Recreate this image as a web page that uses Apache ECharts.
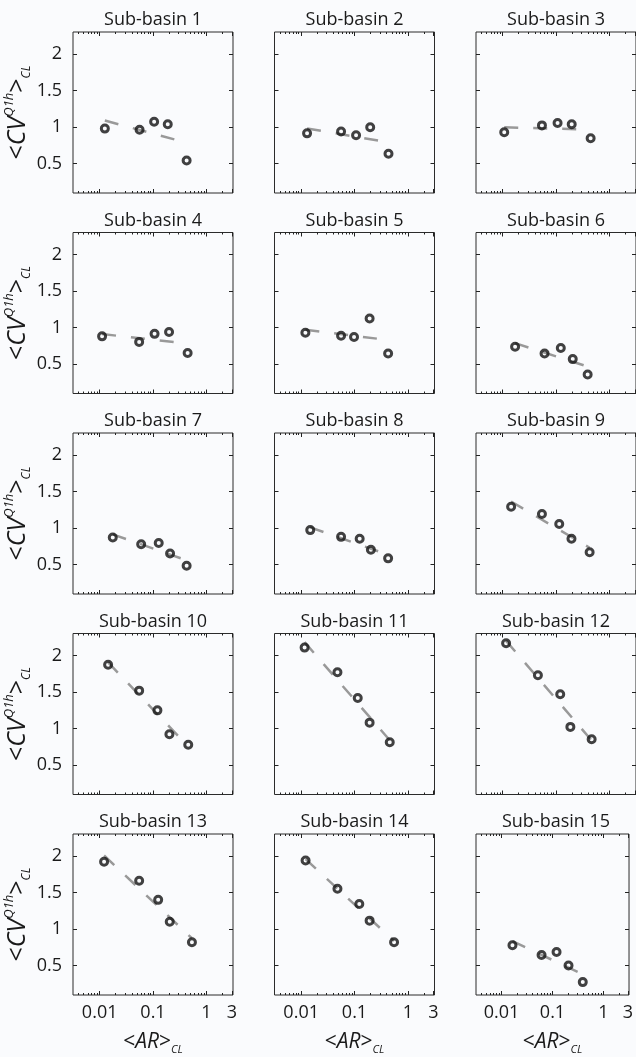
<!DOCTYPE html>
<html>
<head>
<meta charset="utf-8">
<script src="https://cdn.jsdelivr.net/npm/echarts@6/dist/echarts.min.js"></script>
<style>
  html, body { margin: 0; padding: 0; background: #fafbfd; }
  #chart { width: 636px; height: 1057px; }
</style>
</head>
<body>
<div id="chart"></div>
<script>
// <AR>_CL of the five points in each sub-basin
var arCL = [
  [0.0125, 0.056, 0.105, 0.189, 0.427],
  [0.0129, 0.056, 0.107, 0.197, 0.434],
  [0.0107, 0.0545, 0.107, 0.197, 0.446],
  [0.0111, 0.055, 0.107, 0.2, 0.446],
  [0.012, 0.056, 0.098, 0.192, 0.427],
  [0.0171, 0.061, 0.123, 0.206, 0.392],
  [0.0176, 0.06, 0.128, 0.209, 0.427],
  [0.0148, 0.056, 0.125, 0.203, 0.427],
  [0.0144, 0.0545, 0.115, 0.195, 0.427],
  [0.0144, 0.055, 0.121, 0.203, 0.458],
  [0.0116, 0.0479, 0.115, 0.192, 0.458],
  [0.0116, 0.0458, 0.12, 0.186, 0.466],
  [0.0121, 0.055, 0.125, 0.206, 0.537],
  [0.0121, 0.0479, 0.123, 0.192, 0.552],
  [0.0164, 0.061, 0.12, 0.206, 0.392]
]
// <CV^Q1h>_CL of the same points
var cvCL = [
  [0.98, 0.965, 1.074, 1.04, 0.545],
  [0.915, 0.94, 0.889, 0.998, 0.637],
  [0.931, 1.024, 1.057, 1.04, 0.847],
  [0.881, 0.805, 0.915, 0.94, 0.654],
  [0.931, 0.889, 0.873, 1.124, 0.646],
  [0.738, 0.646, 0.721, 0.57, 0.36],
  [0.873, 0.78, 0.797, 0.654, 0.486],
  [0.973, 0.881, 0.856, 0.705, 0.587],
  [1.292, 1.192, 1.057, 0.856, 0.671],
  [1.872, 1.519, 1.25, 0.923, 0.78],
  [2.107, 1.771, 1.418, 1.082, 0.814],
  [2.166, 1.729, 1.469, 1.024, 0.856],
  [1.922, 1.662, 1.4, 1.1, 0.822],
  [1.939, 1.553, 1.343, 1.116, 0.822],
  [0.78, 0.646, 0.688, 0.503, 0.276]
]
var titles = []
for (var k = 1; k <= 15; k++) titles.push('Sub-basin ' + k)

var xTicks = [0.01, 0.1, 1, 3]
var xTickLabels = ['0.01', '0.1', '1', '3']
var yTicks = [0.5, 1, 1.5, 2]

var FONT = '"Open Sans", "Noto Sans", sans-serif'
var INK = '#1a1a1a'

// x is shown on a log10 scale: the axis runs over log10(<AR>) from -2.5 to 0.5
var lg = function (v) { return Math.log10(v) }
var xTickPos = xTicks.map(lg)
var xMinorPos = []
;[0.001, 0.01, 0.1, 1].forEach(function (d) {
  for (var m = 2; m <= 9; m++) {
    var p = lg(m * d)
    if (p > -2.5 && p < 0.5) xMinorPos.push(p)
  }
})

// least squares line of y on log10(x), drawn between the first and last point
function fitLine(lx, ys) {
  var n = lx.length, mx = 0, my = 0
  for (var i = 0; i < n; i++) { mx += lx[i] / n; my += ys[i] / n }
  var sxy = 0, sxx = 0
  for (var j = 0; j < n; j++) {
    sxy += (lx[j] - mx) * (ys[j] - my)
    sxx += (lx[j] - mx) * (lx[j] - mx)
  }
  var b = sxy / sxx
  var x0 = Math.min.apply(null, lx), x1 = Math.max.apply(null, lx)
  return [[x0, my + b * (x0 - mx)], [x1, my + b * (x1 - mx)]]
}

function tickLabel(v) {
  for (var t = 0; t < xTickPos.length; t++) {
    if (Math.abs(v - xTickPos[t]) < 1e-6) return xTickLabels[t]
  }
  return ''
}

function build(full) {
  var grids = [], xAxes = [], yAxes = [], series = [], graphics = []
  for (var i = 0; i < 15; i++) {
    var r = Math.floor(i / 3), c = i % 3
    var left = 73 + c * 201.5, top = 32 + r * 200.5
    grids.push({ left: left, top: top, width: 160, height: 161, show: true, borderColor: '#2b2b2b', borderWidth: 1 })

    var xi = xAxes.length
    var xs = full
      ? [['bottom', xTickPos, 4], ['bottom', xMinorPos, 2], ['top', xTickPos, 4], ['top', xMinorPos, 2]]
      : [['bottom', xTickPos, 4]]
    xs.forEach(function (s, q) {
      var lab = r === 4 && q === 0
      var ax = {
        gridIndex: i, type: 'value', position: s[0], min: -2.5, max: 0.5,
        axisLine: { show: false, onZero: false },
        splitLine: { show: false },
        axisTick: { inside: true, length: s[2], customValues: s[1].slice(), lineStyle: { color: '#222' } },
        axisLabel: { show: lab, customValues: xTickPos.slice(), margin: 9, fontSize: 18, fontFamily: FONT, color: INK, formatter: tickLabel }
      }
      if (lab) {
        ax.name = '{a|<}{i|AR}{a|>}{sub|CL}'
        ax.nameLocation = 'middle'
        ax.nameGap = 34
        ax.nameTextStyle = {
          rich: {
            a: { fontSize: 21, fontFamily: FONT, color: INK, lineHeight: 26 },
            i: { fontSize: 21, fontFamily: FONT, fontStyle: 'italic', color: INK, lineHeight: 26 },
            sub: { fontSize: 11, fontFamily: FONT, fontStyle: 'italic', color: INK, lineHeight: 12, verticalAlign: 'bottom' }
          }
        }
      }
      xAxes.push(ax)
    })

    var yi = yAxes.length
    ;(full ? ['left', 'right'] : ['left']).forEach(function (pos) {
      var first = pos === 'left' && c === 0
      var ax = {
        gridIndex: i, type: 'value', position: pos, min: 0.1, max: 2.3,
        axisLine: { show: false, onZero: false },
        splitLine: { show: false },
        axisTick: { inside: true, length: 4, customValues: yTicks.slice(), lineStyle: { color: '#222' } },
        axisLabel: { show: first, customValues: yTicks.slice(), margin: 11, fontSize: 18, fontFamily: FONT, color: INK }
      }
      if (first) {
        ax.name = '{a|<}{i|CV}{sup|Q1h}{a|>}{sub|CL}'
        ax.nameLocation = 'middle'
        ax.nameRotate = 90
        ax.nameGap = 34
        ax.nameTextStyle = {
          rich: {
            a: { fontSize: 25, fontFamily: FONT, color: INK, lineHeight: 30 },
            i: { fontSize: 25, fontFamily: FONT, fontStyle: 'italic', color: INK, lineHeight: 30 },
            sup: { fontSize: 13, fontFamily: FONT, fontStyle: 'italic', color: INK, lineHeight: 14, verticalAlign: 'top' },
            sub: { fontSize: 12, fontFamily: FONT, fontStyle: 'italic', color: INK, lineHeight: 12, verticalAlign: 'bottom' }
          }
        }
      }
      yAxes.push(ax)
    })

    var lx = arCL[i].map(lg)
    series.push({
      type: 'line', xAxisIndex: xi, yAxisIndex: yi,
      data: fitLine(lx, cvCL[i]),
      symbol: 'none', silent: true, z: 1,
      lineStyle: { color: '#999999', width: 2.5, type: [14, 15] }
    })
    series.push({
      type: 'scatter', xAxisIndex: xi, yAxisIndex: yi,
      data: lx.map(function (x, j) { return [x, cvCL[i][j]] }),
      symbol: 'circle', symbolSize: 7, silent: true, z: 2,
      itemStyle: { color: 'rgba(0,0,0,0)', borderColor: '#111111', borderWidth: 3 }
    })

    graphics.push({
      type: 'text', x: left + 80, y: top - 12,
      style: { text: titles[i], fill: INK, fontSize: 18, fontFamily: FONT, align: 'center', verticalAlign: 'middle' }
    })
  }
  return {
    backgroundColor: '#fafbfd',
    animation: false,
    grid: grids,
    xAxis: xAxes,
    yAxis: yAxes,
    series: series,
    graphic: graphics
  }
}

var el = document.getElementById('chart')
var chart = echarts.init(el)
try {
  chart.setOption(build(true))
} catch (err) {
  window.console && console.error(err)
  chart.dispose()
  chart = echarts.init(el)
  chart.setOption(build(false))
}
</script>
</body>
</html>
